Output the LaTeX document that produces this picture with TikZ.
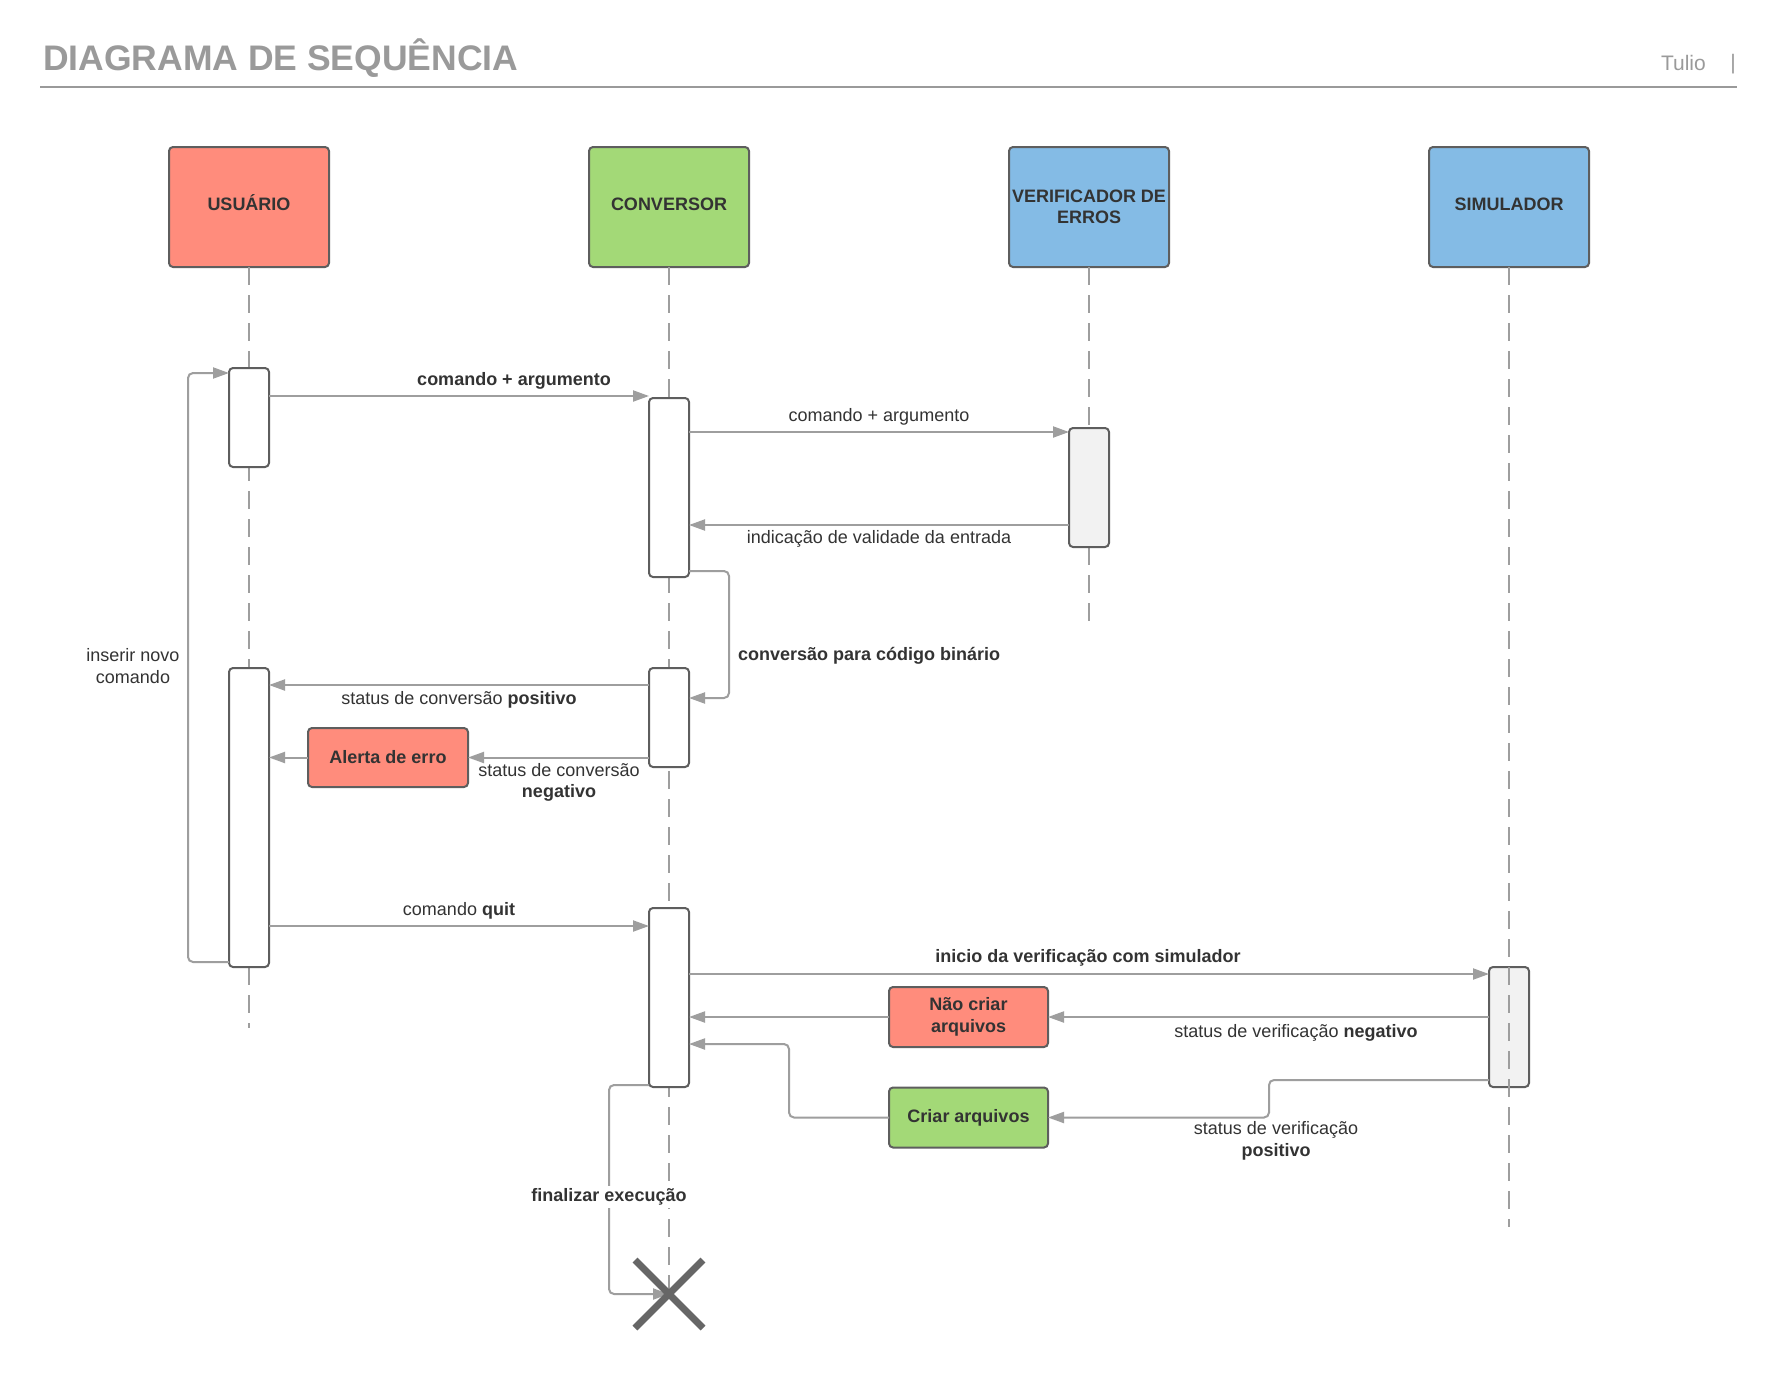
\documentclass[tikz,border=0pt]{standalone}
\usepackage{fontspec}
\setmainfont{Liberation Sans}
\usetikzlibrary{arrows.meta,calc}
\definecolor{salmon}{HTML}{FF8C7C}
\definecolor{lgreen}{HTML}{A3D977}
\definecolor{lblue}{HTML}{84BBE5}
\definecolor{bordergray}{HTML}{5E5E5E}
\definecolor{linegray}{HTML}{9E9E9E}
\definecolor{txt}{HTML}{333333}
\definecolor{barfill}{HTML}{F2F2F2}
\definecolor{titlegray}{HTML}{9A9A9A}
\definecolor{xgray}{HTML}{666666}
\begin{document}
\begin{tikzpicture}[x=1pt,y=-1pt,
  every node/.style={inner sep=0pt, outer sep=0pt},
  lbl/.style={font=\fontsize{18}{21.5}\selectfont, text=txt, align=center},
  lblb/.style={font=\bfseries\fontsize{18}{21.5}\selectfont, text=txt, align=center},
  actor/.style={draw=bordergray, line width=2pt, rounded corners=4pt, minimum width=160pt, minimum height=120pt, font=\bfseries\fontsize{18}{20.5}\selectfont, text=txt, align=center},
  oneline/.style={text height=13pt, text depth=6pt},
  bar/.style={draw=bordergray, line width=2pt, rounded corners=4pt, fill=white, minimum width=40pt},
  notebox/.style={draw=bordergray, line width=2pt, rounded corners=4pt, minimum width=160pt, minimum height=60pt, font=\bfseries\fontsize{18}{21.5}\selectfont, text=txt, align=center},
  life/.style={draw=linegray, line width=2pt, dash pattern=on 18pt off 10pt},
  msg/.style={draw=linegray, line width=2pt, -{Triangle[length=16pt,width=11pt]}, rounded corners=5pt},
]
\useasboundingbox[fill=white] (0,0) rectangle (1777,1376);

% header
\node[anchor=base west, font=\bfseries\fontsize{35.5}{40}\selectfont, text=titlegray] (title) at (43,70.5) {DIAGRAMA DE SEQUÊNCIA};
\node[anchor=base west, font=\fontsize{21}{24}\selectfont, text=titlegray] (author) at (1661,70) {Tulio};
\node[anchor=base, font=\fontsize{21}{24}\selectfont, text=titlegray] (sep) at (1733,69) {|};
\draw[line width=2pt, draw=titlegray] (40,87) -- (1737,87);

% actors
\node[actor, oneline, fill=salmon] (usr) at (249,207) {USUÁRIO};
\node[actor, oneline, fill=lgreen] (conv) at (669,207) {CONVERSOR};
\node[actor, fill=lblue] (verif) at (1089,207) {VERIFICADOR DE\\ERROS};
\node[actor, oneline, fill=lblue] (sim) at (1509,207) {SIMULADOR};

% lifeline ends
\coordinate (uend) at (249,1028);
\coordinate (vend) at (1089,627);
\coordinate (send) at (1509,1227);
\coordinate (xend) at (669,1294);

\draw[life] (usr.south) -- (uend);
\draw[life] (conv.south) -- (xend);
\draw[life] (verif.south) -- (vend);

% activation bars
\node[bar, minimum height=99pt] (u1) at (249,417.5) {};
\node[bar, minimum height=179pt] (c1) at (669,487.5) {};
\node[bar, minimum height=119pt, fill=barfill] (v1) at (1089,487.5) {};
\node[bar, minimum height=99pt] (c2) at (669,717.5) {};
\node[bar, minimum height=299pt] (u2) at (249,817.5) {};
\node[bar, minimum height=179pt] (c3) at (669,997.5) {};
\node[bar, minimum height=120pt, fill=barfill] (s1) at (1509,1027) {};

\draw[life] (sim.south) -- (send);

% note boxes
\node[notebox, fill=salmon, minimum height=59pt] (alerta) at (388,757.5) {Alerta de erro};
\node[notebox, fill=salmon, minimum width=159pt] (nao) at (968.5,1017) {Não criar\\arquivos};
\node[notebox, fill=lgreen, minimum width=159pt] (criar) at (968.5,1117.5) {Criar arquivos};

% message levels
\coordinate (r1) at (0,396);
\coordinate (r2) at (0,432);
\coordinate (r3) at (0,525);
\coordinate (r4a) at (0,571);
\coordinate (r4b) at (0,698);
\coordinate (r5) at (0,685);
\coordinate (r7) at (0,926);
\coordinate (r8) at (0,974);
\coordinate (r10a) at (0,1080);
\coordinate (r10c) at (0,1044);
\coordinate (rla) at (0,962);
\coordinate (rlb) at (0,373);
\coordinate (rfa) at (0,1085);
\coordinate (kself) at (729,0);
\coordinate (k10) at (1269,0);
\coordinate (k10b) at (789,0);
\coordinate (kloop) at (188,0);
\coordinate (kfin) at (609,0);

% messages
\draw[msg] (u1.east |- r1) -- (c1.west |- r1);
\node[lblb] (l1) at (514,381) {comando + argumento};

\draw[msg] (c1.east |- r2) -- (v1.west |- r2);
\node[lbl] (l2) at (879,417) {comando + argumento};

\draw[msg] (v1.west |- r3) -- (c1.east |- r3);
\node[lbl] (l3) at (879,539) {indicação de validade da entrada};

\draw[msg] (c1.east |- r4a) -- (kself |- r4a) -- (kself |- r4b) -- (c2.east |- r4b);
\node[lblb, anchor=west] (l4) at (738,656) {conversão para código binário};

\draw[msg] (c2.west |- r5) -- (u2.east |- r5);
\node[lbl] (l5) at (459,700) {status de conversão \textbf{positivo}};

\draw[msg] (c2.west |- alerta.east) -- (alerta.east);
\draw[msg] (alerta.west) -- (u2.east |- alerta.west);
\node[lbl] (l6) at (559,782.5) {status de conversão\\\textbf{negativo}};

\draw[msg] (u2.east |- r7) -- (c3.west |- r7);
\node[lbl] (l7) at (459,910.5) {comando \textbf{quit}};

\draw[msg] (c3.east |- r8) -- (s1.west |- r8);
\node[lblb] (l8) at (1088,958) {inicio da verificação com simulador};

\draw[msg] (s1.west |- nao.east) -- (nao.east);
\draw[msg] (nao.west) -- (c3.east |- nao.west);
\node[lbl] (l9) at (1296,1032.5) {status de verificação \textbf{negativo}};

\draw[msg] (s1.west |- r10a) -- (k10 |- r10a) -- (k10 |- criar.east) -- (criar.east);
\draw[msg] (criar.west) -- (k10b |- criar.west) -- (k10b |- r10c) -- (c3.east |- r10c);
\node[lbl] (l10) at (1276,1141) {status de verificação\\\textbf{positivo}};

\draw[msg] (u2.west |- rla) -- (kloop |- rla) -- (kloop |- rlb) -- (u1.west |- rlb);
\node[lbl] (l11) at (133,666) {inserir novo\\comando};

\draw[msg] (c3.west |- rfa) -- (kfin |- rfa) -- (kfin |- xend) -- (xend);
\node[lblb, fill=white, inner xsep=1pt, inner ysep=3pt] (l12) at (609,1197) {finalizar execução};

% destruction mark
\draw[line width=7pt, draw=xgray] ($(xend)+(-34,-34)$) -- ($(xend)+(34,34)$);
\draw[line width=7pt, draw=xgray] ($(xend)+(-34,34)$) -- ($(xend)+(34,-34)$);
\end{tikzpicture}
\end{document}
